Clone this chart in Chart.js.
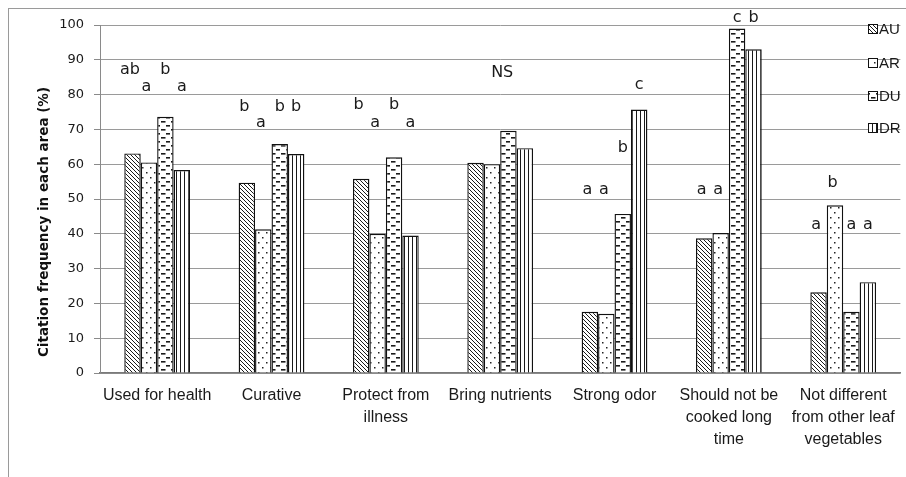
<!DOCTYPE html>
<html>
<head>
<meta charset="utf-8">
<script src="https://cdn.jsdelivr.net/npm/chart.js@4/dist/chart.umd.min.js"></script>
<style>
  html, body { margin: 0; padding: 0; background: #fff; }
  #wrap { width: 906px; height: 477px; position: relative; }
</style>
</head>
<body>
<div id="wrap"><canvas id="c" width="906" height="477"></canvas></div>
<script>
// Perception categories (multi-line labels)
const categories = [
  ['Used for health'],
  ['Curative'],
  ['Protect from', 'illness'],
  ['Bring nutrients'],
  ['Strong odor'],
  ['Should not be', 'cooked long', 'time'],
  ['Not different', 'from other leaf', 'vegetables']
];
const seriesNames = ['AU', 'AR', 'DU', 'DR'];

// Citation frequency (%) per area
const valuesAU = [63.1, 54.7, 55.8, 60.4, 17.6, 38.7, 23.2];
const valuesAR = [60.5, 41.3, 40.0, 60.0, 17.0, 40.2, 48.2];
const valuesDU = [73.6, 65.8, 62.0, 69.6, 45.7, 99.0, 17.6];
const valuesDR = [58.3, 62.9, 39.5, 64.6, 75.7, 93.0, 26.1];

const yTicks = [0, 10, 20, 30, 40, 50, 60, 70, 80, 90, 100];

// Significance letters per category, in series order (AU, AR, DU, DR)
const sigLetters = [
  ['ab', 'a', 'b', 'a'],
  ['b', 'a', 'b', 'b'],
  ['b', 'a', 'b', 'a'],
  ['', '', '', ''],
  ['a', 'a', 'b', 'c'],
  ['a', 'a', 'c', 'b'],
  ['a', 'b', 'a', 'a']
];
// Height (axis units) at which each letter sits
const sigLevels = [
  [87.1, 82.2, 87.1, 82.2],
  [76.5, 71.8, 76.5, 76.5],
  [77.0, 72.0, 77.0, 72.0],
  [0, 0, 0, 0],
  [52.6, 52.6, 64.7, 82.8],
  [52.6, 52.6, 102.2, 102.2],
  [42.5, 54.6, 42.5, 42.5]
];
const groupNotes = ['', '', '', 'NS', '', '', ''];
const groupNoteLevel = 86.2;

const canvas = document.getElementById('c');
const ctx = canvas.getContext('2d');

function makeTile(w, h, draw) {
  const t = document.createElement('canvas');
  t.width = w; t.height = h;
  const g = t.getContext('2d');
  g.fillStyle = '#ffffff';
  g.fillRect(0, 0, w, h);
  draw(g);
  return ctx.createPattern(t, 'repeat');
}

// Diagonal hatching (\\\)
const patAU = makeTile(4, 4, g => {
  g.strokeStyle = '#1a1a1a';
  g.lineWidth = 1;
  g.beginPath();
  g.moveTo(-1, -1); g.lineTo(5, 5);
  g.moveTo(-1, 3); g.lineTo(1, 5);
  g.moveTo(3, -1); g.lineTo(5, 1);
  g.stroke();
});
// Sparse dots
const patAR = makeTile(8, 10, g => {
  g.fillStyle = '#222';
  g.fillRect(2, 2, 1.5, 1.5);
  g.fillRect(6, 7, 1.5, 1.5);
});
// Short horizontal dashes, staggered
const patDU = makeTile(10, 8, g => {
  g.fillStyle = '#1a1a1a';
  g.fillRect(1, 1, 4.5, 1.6);
  g.fillRect(6, 5, 4.5, 1.6);
});
// Vertical stripes
const patDR = makeTile(4, 1, g => {
  g.fillStyle = '#1a1a1a';
  g.fillRect(0, 0, 1, 1);
});

const patterns = [patAU, patAR, patDU, patDR];
const seriesValues = [valuesAU, valuesAR, valuesDU, valuesDR];

const datasets = seriesNames.map((name, i) => ({
  label: name,
  data: seriesValues[i],
  backgroundColor: patterns[i],
  borderColor: '#111',
  borderWidth: 1.4,
  borderSkipped: 'bottom',
  barPercentage: 1.0,
  categoryPercentage: 0.575
}));

const framePlugin = {
  id: 'frame',
  beforeDraw(chart) {
    const c = chart.ctx;
    c.save();
    c.fillStyle = '#fff';
    c.fillRect(0, 0, chart.width, chart.height);
    c.strokeStyle = '#9a9a9a';
    c.lineWidth = 1;
    c.strokeRect(8.5, 8.5, chart.width + 20, chart.height + 20);
    c.restore();
  }
};

const annotationPlugin = {
  id: 'sigLetters',
  afterDatasetsDraw(chart) {
    const c = chart.ctx;
    const y = chart.scales.y;
    const x = chart.scales.x;
    c.save();
    c.fillStyle = '#1a1a1a';
    c.font = '16px "DejaVu Sans", Verdana, sans-serif';
    c.textAlign = 'center';
    c.textBaseline = 'middle';
    seriesNames.forEach((_, di) => {
      const meta = chart.getDatasetMeta(di);
      meta.data.forEach((bar, ci) => {
        const txt = sigLetters[ci][di];
        if (!txt) return;
        const shift = di < 2 ? -2.5 : 0;
        c.fillText(txt, bar.x + shift, y.getPixelForValue(sigLevels[ci][di]));
      });
    });
    groupNotes.forEach((note, ci) => {
      if (!note) return;
      c.fillText(note, x.getPixelForValue(ci) + 2, y.getPixelForValue(groupNoteLevel));
    });
    c.restore();
  }
};

const legendPlugin = {
  id: 'sideLegend',
  afterDraw(chart) {
    const c = chart.ctx;
    const rowsY = [29, 63, 96, 128];
    c.save();
    c.font = '15px "Liberation Sans", Arial, sans-serif';
    c.textBaseline = 'middle';
    c.textAlign = 'left';
    seriesNames.forEach((name, i) => {
      const yy = rowsY[i];
      c.fillStyle = patterns[i];
      c.fillRect(868, yy - 5, 9, 9);
      c.strokeStyle = '#111';
      c.lineWidth = 1;
      c.strokeRect(868.5, yy - 4.5, 9, 9);
      c.fillStyle = '#1a1a1a';
      c.fillText(name, 879, yy + 0.5);
    });
    c.restore();
  }
};

const yTitlePlugin = {
  id: 'yTitle',
  afterDraw(chart) {
    const c = chart.ctx;
    c.save();
    c.translate(44, 222);
    c.rotate(-Math.PI / 2);
    c.font = 'bold 13.5px "DejaVu Sans", Verdana, sans-serif';
    c.fillStyle = '#111';
    c.textAlign = 'center';
    c.textBaseline = 'middle';
    c.fillText('Citation frequency in each area (%)', 0, 0);
    c.restore();
  }
};

new Chart(canvas, {
  type: 'bar',
  data: { labels: categories, datasets },
  options: {
    responsive: false,
    animation: false,
    devicePixelRatio: 1,
    layout: { padding: { left: 0, top: 25, right: 3, bottom: 0 } },
    plugins: {
      legend: { display: false },
      tooltip: { enabled: false }
    },
    scales: {
      x: {
        grid: { display: false, drawTicks: false },
        border: { display: true, color: '#7a7a7a', width: 1.5 },
        ticks: {
          color: '#1a1a1a',
          padding: 11,
          maxRotation: 0,
          autoSkip: false,
          font: { family: '"Liberation Sans", Arial, sans-serif', size: 16, lineHeight: 1.4 }
        },
        afterFit(scale) { scale.height = 104; }
      },
      y: {
        min: 0,
        max: 100,
        afterBuildTicks(scale) { scale.ticks = yTicks.map(v => ({ value: v })); },
        grid: { color: '#9a9a9a', lineWidth: 1, tickLength: 6, drawTicks: true, tickColor: '#8a8a8a' },
        border: { display: true, color: '#8a8a8a', width: 1 },
        ticks: {
          color: '#1a1a1a',
          padding: 10,
          font: { family: '"DejaVu Sans", Verdana, sans-serif', size: 13 }
        },
        afterFit(scale) { scale.width = 100; }
      }
    }
  },
  plugins: [framePlugin, annotationPlugin, legendPlugin, yTitlePlugin]
});
</script>
</body>
</html>
